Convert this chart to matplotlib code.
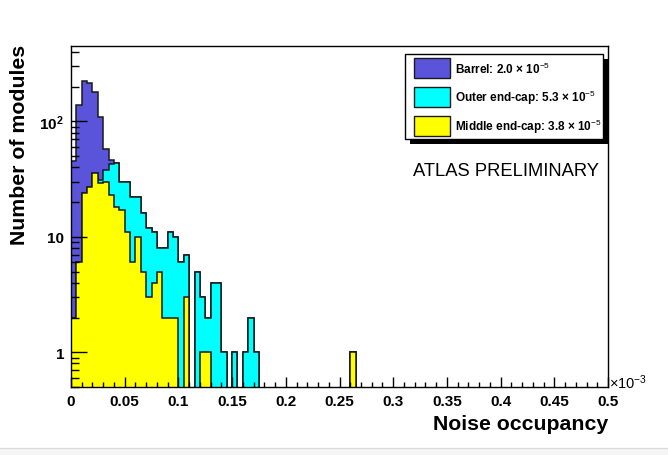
import numpy as np
import matplotlib
matplotlib.use('Agg')
import matplotlib.pyplot as plt
from matplotlib.ticker import FixedLocator, FixedFormatter, MultipleLocator, NullFormatter, LogLocator, FuncFormatter
from matplotlib.patches import Rectangle

plt.rcParams['font.family'] = ['Liberation Sans', 'DejaVu Sans']
plt.rcParams['mathtext.fontset'] = 'custom'
plt.rcParams['mathtext.rm'] = 'Liberation Sans'
plt.rcParams['mathtext.bf'] = 'Liberation Sans:bold'
plt.rcParams['mathtext.it'] = 'Liberation Sans:italic'

# noise occupancy histogram, bins of 0.005 (x10^-3) starting at 0
bin_width = 0.005
barrel = [43, 133, 198, 187, 143, 78, 20, 3, 0, 0,
          0, 0, 0, 0, 0, 0, 0, 0, 0, 0,
          0, 0, 0, 0, 0, 0, 0, 0, 0, 0,
          0, 0, 0, 0, 0, 0, 0, 0, 0, 0,
          0, 0, 0, 0, 0, 0, 0, 0, 0, 0,
          0, 0, 0]
outer = [0, 0, 0, 0, 0, 2, 8, 20, 26, 13,
         19, 16, 12, 11, 9, 7, 3, 6, 9, 8,
         6, 4, 0, 5, 2, 1, 4, 4, 1, 0,
         1, 0, 1, 2, 1, 0, 0, 0, 0, 0,
         0, 0, 0, 0, 0, 0, 0, 0, 0, 0,
         0, 0, 0]
middle = [2, 6, 24, 27, 36, 29, 30, 23, 18, 17,
          11, 6, 10, 5, 3, 4, 5, 2, 2, 2,
          0, 3, 0, 0, 1, 1, 0, 0, 0, 0,
          0, 0, 0, 0, 0, 0, 0, 0, 0, 0,
          0, 0, 0, 0, 0, 0, 0, 0, 0, 0,
          0, 0, 1]
labels = ['Barrel: 2.0 \u00d7 10$^{-5}$',
          'Outer end-cap: 5.3 \u00d7 10$^{-5}$',
          'Middle end-cap: 3.8 \u00d7 10$^{-5}$']
colors = ['#5954d9', '#00ffff', '#ffff00']

edges = np.arange(len(middle) + 1) * bin_width
s1 = np.array(middle, dtype=float)
s2 = s1 + np.array(outer)
s3 = s2 + np.array(barrel)

W, H = 668, 456
fig = plt.figure(figsize=(W / 100, H / 100), dpi=100)
ax = fig.add_axes([71 / W, 1 - 388 / H, (608 - 71) / W, (388 - 47) / H])

floor = 1e-3
for vals, c in [(s3, colors[0]), (s2, colors[1]), (s1, colors[2])]:
    v = np.where(vals > 0, vals, floor)
    ax.stairs(v, edges, baseline=floor, fill=True, facecolor=c,
              edgecolor='#1a1a1a', linewidth=1.1)

ax.set_yscale('log')
ax.set_xlim(0, 0.5)
ax.set_ylim(0.5, 450)

ax.yaxis.set_major_locator(FixedLocator([1, 10, 100]))
ax.yaxis.set_major_formatter(FixedFormatter(['1', '10', '10$^{\\mathbf{2}}$']))
ax.yaxis.set_minor_locator(LogLocator(base=10, subs=np.arange(2, 10)))
ax.yaxis.set_minor_formatter(NullFormatter())
ax.xaxis.set_major_locator(MultipleLocator(0.05))
ax.xaxis.set_minor_locator(MultipleLocator(0.01))
ax.xaxis.set_major_formatter(FuncFormatter(lambda x, p: f'{x:g}'))

ax.tick_params(axis='both', which='both', direction='in', top=False, right=False, width=1)
ax.tick_params(axis='y', which='major', length=11.5, pad=5)
ax.tick_params(axis='y', which='minor', length=5.8)
ax.tick_params(axis='x', which='major', length=7.2, pad=5)
ax.tick_params(axis='x', which='minor', length=3.6)
for lab in ax.get_xticklabels() + ax.get_yticklabels():
    lab.set_fontsize(11)
    lab.set_fontweight('bold')
for sp in ax.spines.values():
    sp.set_linewidth(1)

fig.text(20 / W, 1 - 45 / H, 'Number of modules', rotation=90, ha='center', va='top',
         fontsize=15.3, fontweight='bold')
fig.text(608 / W, 1 - 425 / H, 'Noise occupancy', ha='right', va='center',
         fontsize=15.3, fontweight='bold')
fig.text(609 / W, 1 - 383 / H, '\u00d710$^{-3}$', ha='left', va='center', fontsize=10.5)
fig.text(413 / W, 1 - 171 / H, 'ATLAS PRELIMINARY', ha='left', va='center', fontsize=13.2)

# legend box in pixel coordinates
ov = fig.add_axes([0, 0, 1, 1])
ov.set_xlim(0, W)
ov.set_ylim(H, 0)
ov.axis('off')
ov.add_patch(Rectangle((410, 60), 198, 85, facecolor='black', edgecolor='none'))
ov.add_patch(Rectangle((405, 55), 198, 85, facecolor='white', edgecolor='black', lw=1))
for i, (lab, c) in enumerate(zip(labels, colors)):
    yc = 69 + 29 * i
    ov.add_patch(Rectangle((414, yc - 10), 36, 20, facecolor=c, edgecolor='#1a1a1a', lw=1))
    ov.text(455, yc, lab, ha='left', va='center', fontsize=8.5, fontweight='bold')

ov.plot([0, W], [449, 449], color='#dcdcdc', lw=1)
ov.add_patch(Rectangle((0, 449.5), W, 7, facecolor='#f5f5f5', edgecolor='none'))

fig.savefig('out.png', dpi=100)
